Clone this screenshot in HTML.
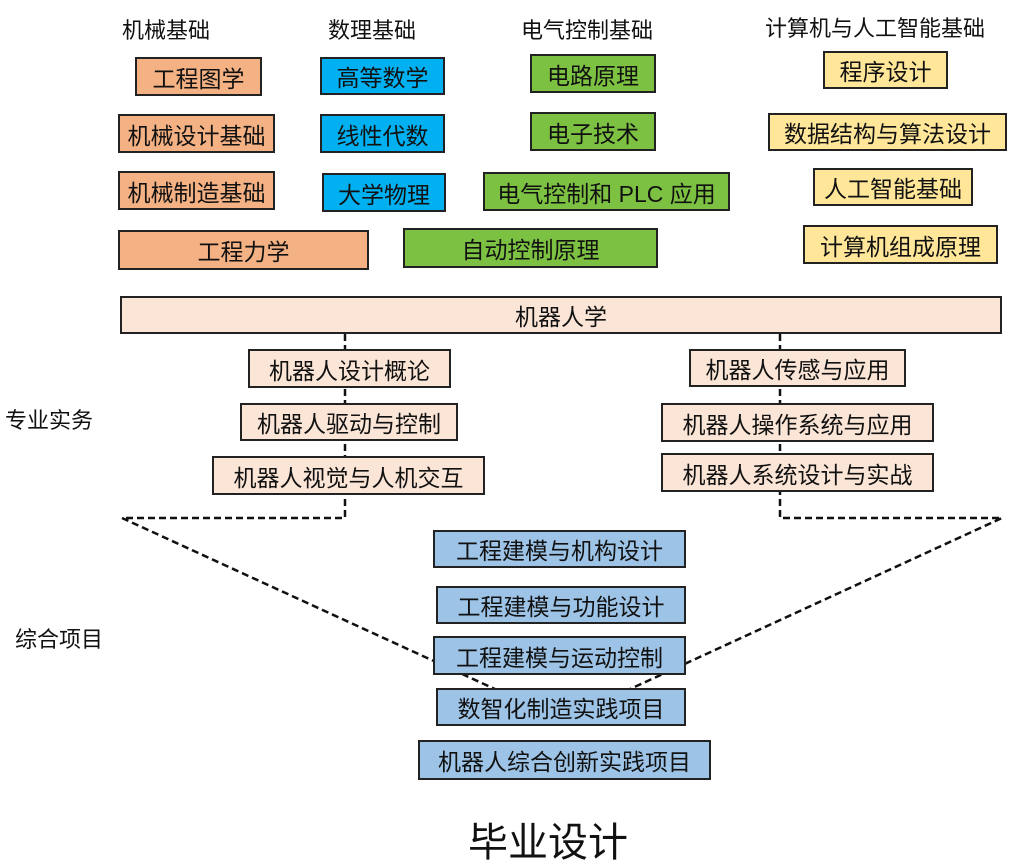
<!DOCTYPE html>
<html><head><meta charset="utf-8"><style>
body{margin:0;width:1024px;height:861px;background:#fff;position:relative;overflow:hidden;font-family:"Liberation Sans","Noto Sans CJK SC",sans-serif;}
.b{position:absolute;box-sizing:border-box;border:2px solid #222;display:flex;align-items:center;justify-content:center;font-size:23px;color:#111;white-space:nowrap;}
.o{background:#F4B183}.u{background:#00B0F0}.g{background:#7DC142}.y{background:#FFE699}.p{background:#FBE5D6}.l{background:#9DC3E6}
.t{position:absolute;font-size:22px;color:#111;white-space:nowrap;}
svg{position:absolute;left:0;top:0}
</style></head><body>
<svg width="1024" height="861"><g stroke="#111" stroke-width="2.5" stroke-dasharray="7,4" fill="none">
<polyline points="345,334 345,518 122,518 497,690"/>
<polyline points="780,334 780,518 1002,518 628,690"/>
</g></svg>
<div class="t" style="left:122px;top:13px">机械基础</div>
<div class="t" style="left:328px;top:13px">数理基础</div>
<div class="t" style="left:521px;top:13px">电气控制基础</div>
<div class="t" style="left:765px;top:11px">计算机与人工智能基础</div>

<div class="b o" style="left:135px;top:57px;width:127px;height:39px">工程图学</div>
<div class="b o" style="left:118px;top:114px;width:157px;height:39px">机械设计基础</div>
<div class="b o" style="left:118px;top:171px;width:157px;height:39px">机械制造基础</div>
<div class="b o" style="left:118px;top:230px;width:251px;height:40px">工程力学</div>

<div class="b u" style="left:320px;top:57px;width:125px;height:38px">高等数学</div>
<div class="b u" style="left:320px;top:114px;width:125px;height:39px">线性代数</div>
<div class="b u" style="left:322px;top:173px;width:124px;height:39px">大学物理</div>

<div class="b g" style="left:530px;top:54px;width:126px;height:39px">电路原理</div>
<div class="b g" style="left:530px;top:112px;width:126px;height:39px">电子技术</div>
<div class="b g" style="left:483px;top:172px;width:247px;height:39px">电气控制和 PLC 应用</div>
<div class="b g" style="left:403px;top:228px;width:255px;height:40px">自动控制原理</div>

<div class="b y" style="left:823px;top:51px;width:125px;height:38px">程序设计</div>
<div class="b y" style="left:768px;top:113px;width:239px;height:38px">数据结构与算法设计</div>
<div class="b y" style="left:813px;top:168px;width:160px;height:38px">人工智能基础</div>
<div class="b y" style="left:803px;top:225px;width:195px;height:39px">计算机组成原理</div>

<div class="b p" style="left:120px;top:296px;width:882px;height:38px">机器人学</div>
<div class="b p" style="left:248px;top:349px;width:203px;height:39px">机器人设计概论</div>
<div class="b p" style="left:240px;top:403px;width:218px;height:38px">机器人驱动与控制</div>
<div class="b p" style="left:212px;top:456px;width:273px;height:39px">机器人视觉与人机交互</div>
<div class="b p" style="left:689px;top:349px;width:217px;height:38px">机器人传感与应用</div>
<div class="b p" style="left:661px;top:403px;width:273px;height:39px">机器人操作系统与应用</div>
<div class="b p" style="left:661px;top:453px;width:273px;height:39px">机器人系统设计与实战</div>

<div class="t" style="left:5px;top:403px">专业实务</div>
<div class="t" style="left:15px;top:622px">综合项目</div>

<div class="b l" style="left:433px;top:530px;width:253px;height:38px">工程建模与机构设计</div>
<div class="b l" style="left:436px;top:586px;width:250px;height:38px">工程建模与功能设计</div>
<div class="b l" style="left:433px;top:636px;width:253px;height:39px">工程建模与运动控制</div>
<div class="b l" style="left:436px;top:688px;width:250px;height:38px">数智化制造实践项目</div>
<div class="b l" style="left:418px;top:740px;width:293px;height:40px">机器人综合创新实践项目</div>

<div class="t" style="left:468px;top:810px;font-size:40px">毕业设计</div>
</body></html>
